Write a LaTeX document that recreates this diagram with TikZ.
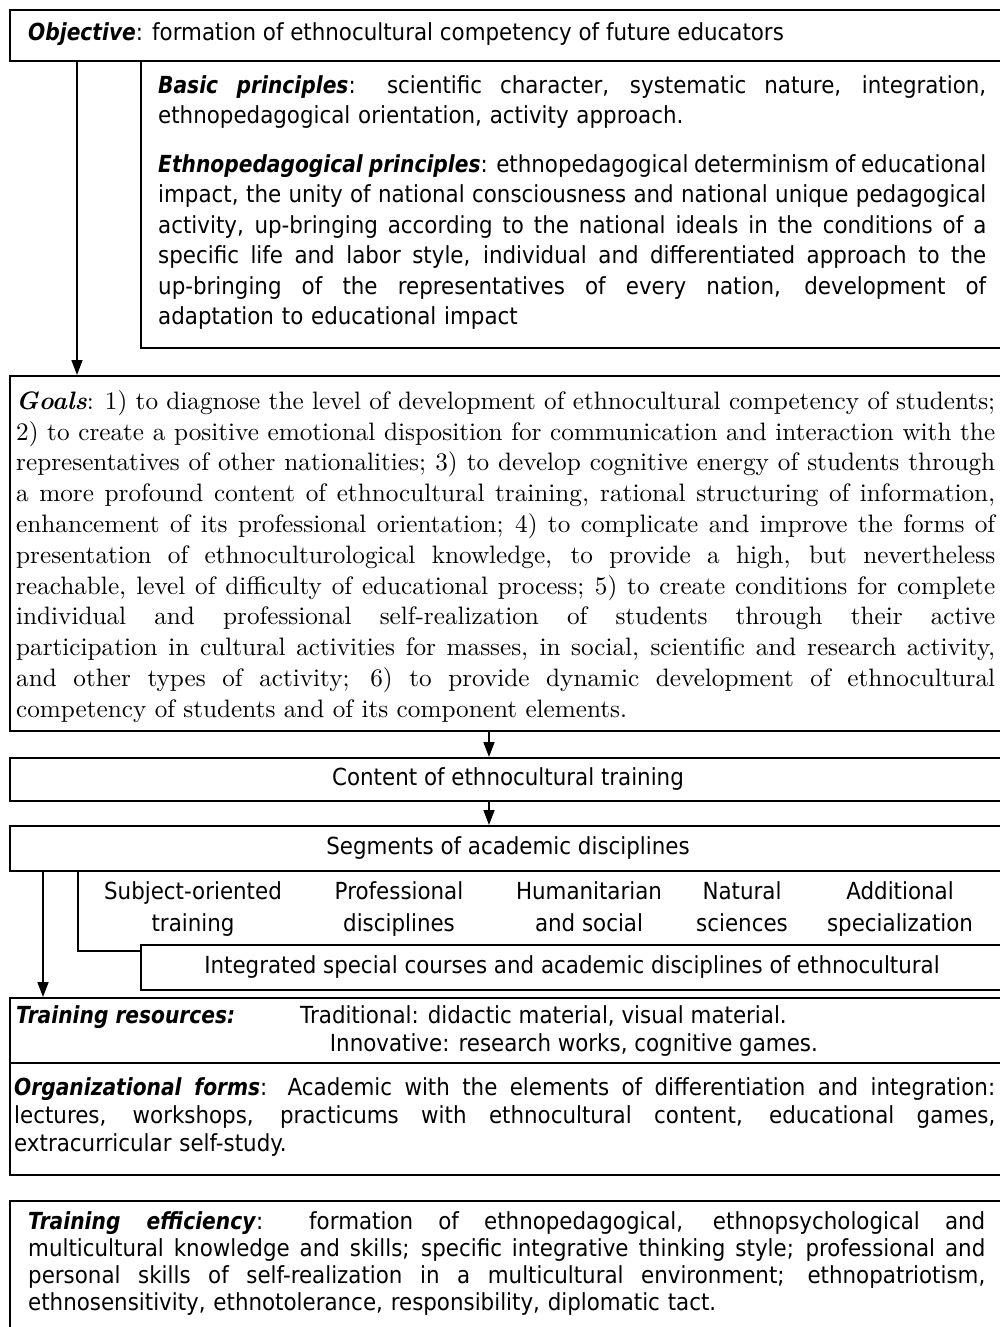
\documentclass[tikz,border=0pt]{standalone}
\usepackage{fontspec}
\newfontfamily\sfont{DejaVu Sans}[UprightFeatures={FakeStretch=0.91}, BoldFeatures={FakeStretch=0.86}, ItalicFeatures={FakeStretch=0.91}, BoldItalicFeatures={FakeStretch=0.86}]
\newfontfamily\gfont{lmroman10-regular.otf}[BoldFont=lmroman10-bold.otf, ItalicFont=lmroman10-italic.otf, BoldItalicFont=lmroman10-bolditalic.otf]
\usetikzlibrary{arrows.meta}
\newcommand\ST{\rule{0pt}{20pt}}
\newcommand\JL[1]{\makebox[\hsize][s]{\spaceskip=0pt\xspaceskip=0pt\ST#1}}
\newcommand\bi[1]{\textbf{\textit{#1}}}
\begin{document}
\begin{tikzpicture}[x=1pt,y=-1pt,
  box/.style={draw, line width=1.6pt, inner sep=0pt, anchor=north west, fill=white},
  arr/.style={line width=1.6pt, -{Triangle[length=15pt,width=11pt]}},
  sans/.style={font=\sfont\fontsize{23.5}{30.5}\selectfont},
  txt/.style={inner sep=0pt, align=left, anchor=north west}]
\useasboundingbox (0,0) rectangle (1000,1327);
\clip (0,0) rectangle (1000,1327);
\fill[white] (0,0) rectangle (1000,1327);
% boxes
\node[box, minimum width=870pt, minimum height=287pt] (prin) at (140,60) {};
\node[box, minimum width=1001pt, minimum height=51pt] (obj) at (9,9) {};
\node[box, minimum width=1001pt, minimum height=355pt] (goals) at (9,375) {};
\node[box, minimum width=1001pt, minimum height=43pt] (content) at (9,757) {};
\node[box, minimum width=1001pt, minimum height=45pt] (seg) at (9,825) {};
\node[box, minimum width=933pt, minimum height=80pt] (disc) at (77,870) {};
\node[box, minimum width=870pt, minimum height=45pt] (integ) at (140,944) {};
\node[box, minimum width=1001pt, minimum height=65pt] (res) at (9,997) {};
\node[box, minimum width=1001pt, minimum height=112pt] (org) at (9,1062) {};
\node[box, minimum width=1001pt, minimum height=140pt] (eff) at (9,1200) {};
% texts
\node[sans, anchor=base west, inner sep=0pt] (objt) at (28,41) {\bi{Objective}: formation of ethnocultural competency of future educators};
\node[sans, txt, text width=828pt] (basict) at (158,73) {%
\JL{\bi{Basic principles}: scientific character, systematic nature, integration,}\\
\ST ethnopedagogical orientation, activity approach.};
\node[sans, txt, text width=828pt] (ethnot) at (158,152) {%
\JL{\bi{Ethnopedagogical principles}: ethnopedagogical determinism of educational}\\
\JL{impact, the unity of national consciousness and national unique pedagogical}\\
\JL{activity, up-bringing according to the national ideals in the conditions of a}\\
\JL{specific life and labor style, individual and differentiated approach to the}\\
\JL{up-bringing of the representatives of every nation, development of}\\
\ST adaptation to educational impact};
\node[txt, text width=979pt, font=\gfont\fontsize{25.2}{30.8}\selectfont] (goalst) at (16,389) {%
\JL{\bi{Goals}: 1) to diagnose the level of development of ethnocultural competency of students;}\\
\JL{2) to create a positive emotional disposition for communication and interaction with the}\\
\JL{representatives of other nationalities; 3) to develop cognitive energy of students through}\\
\JL{a more profound content of ethnocultural training, rational structuring of information,}\\
\JL{enhancement of its professional orientation; 4) to complicate and improve the forms of}\\
\JL{presentation of ethnoculturological knowledge, to provide a high, but nevertheless}\\
\JL{reachable, level of difficulty of educational process; 5) to create conditions for complete}\\
\JL{individual and professional self-realization of students through their active}\\
\JL{participation in cultural activities for masses, in social, scientific and research activity,}\\
\JL{and other types of activity; 6) to provide dynamic development of ethnocultural}\\
\ST competency of students and of its component elements.};
\node[sans, anchor=base, inner sep=0pt] (contentt) at (508,785) {Content of ethnocultural training};
\node[sans, anchor=base, inner sep=0pt] (segt) at (508,854) {Segments of academic disciplines};
\tikzset{col/.style={sans, font=\sfont\fontsize{23.5}{32}\selectfont, align=center, anchor=north, inner sep=0pt}}
\node[col] (d1) at (193,879) {\ST Subject-oriented\\training};
\node[col] (d2) at (399,879) {\ST Professional\\disciplines};
\node[col] (d3) at (589,879) {\ST Humanitarian\\and social};
\node[col] (d4) at (742,879) {\ST Natural\\sciences};
\node[col] (d5) at (900,879) {\ST Additional\\specialization};
\node[sans, anchor=base, inner sep=0pt] (integt) at (572,973) {Integrated special courses and academic disciplines of ethnocultural};
\node[sans, anchor=base west, inner sep=0pt] (res1) at (16,1023) {\bi{Training resources:}};
\node[sans, anchor=base west, inner sep=0pt] (res2) at (300,1023) {Traditional: didactic material, visual material.};
\node[sans, anchor=base east, inner sep=0pt] (res3) at (818,1051) {Innovative: research works, cognitive games.};
\node[sans, txt, text width=981pt, font=\sfont\fontsize{23.5}{28}\selectfont] (orgt) at (14,1075) {%
\JL{\bi{Organizational forms}: Academic with the elements of differentiation and integration:}\\
\JL{lectures, workshops, practicums with ethnocultural content, educational games,}\\
\ST extracurricular self-study.};
\node[sans, txt, text width=957pt, font=\sfont\fontsize{23.5}{27}\selectfont] (efft) at (28,1209) {%
\JL{\bi{Training efficiency}: formation of ethnopedagogical, ethnopsychological and}\\
\JL{multicultural knowledge and skills; specific integrative thinking style; professional and}\\
\JL{personal skills of self-realization in a multicultural environment; ethnopatriotism,}\\
\ST ethnosensitivity, ethnotolerance, responsibility, diplomatic tact.};
% connectors
\coordinate (ca) at (77,0);
\coordinate (cb) at (489,0);
\coordinate (cc) at (43,0);
\draw[arr] (obj.south -| ca) -- (goals.north -| ca);
\draw[arr] (goals.south -| cb) -- (content.north -| cb);
\draw[arr] (content.south -| cb) -- (seg.north -| cb);
\draw[arr] (seg.south -| cc) -- (res.north -| cc);
\end{tikzpicture}
\end{document}
